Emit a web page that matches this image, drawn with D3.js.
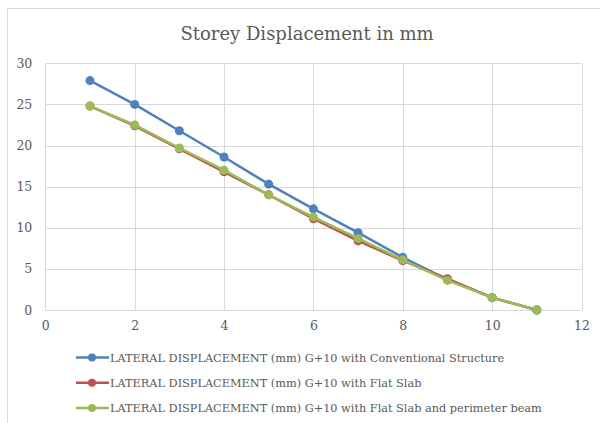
<!DOCTYPE html>
<html>
<head>
<meta charset="utf-8">
<script src="https://cdn.jsdelivr.net/npm/d3@7"></script>
<style>
  body { margin: 0; background: #fff; }
  text { font-family: "DejaVu Serif", serif; fill: #595959; }
</style>
</head>
<body>
<svg id="chart"></svg>
<script>
var storeys = [1, 2, 3, 4, 5, 6, 7, 8, 9, 10, 11];
var conventional = [27.9, 25.0, 21.8, 18.6, 15.3, 12.3, 9.4, 6.4, 3.7, 1.5, 0];
var flatSlab = [24.8, 22.4, 19.6, 16.8, 14.0, 11.1, 8.4, 6.0, 3.8, 1.5, 0];
var flatSlabBeam = [24.8, 22.5, 19.7, 17.0, 14.0, 11.3, 8.7, 6.1, 3.6, 1.5, 0];
var xTicks = [0, 2, 4, 6, 8, 10, 12];
var yTicks = [0, 5, 10, 15, 20, 25, 30];
var seriesNames = [
  "LATERAL DISPLACEMENT (mm) G+10 with Conventional Structure",
  "LATERAL DISPLACEMENT (mm) G+10 with Flat Slab",
  "LATERAL DISPLACEMENT (mm) G+10 with Flat Slab and perimeter beam"
];
var seriesColors = ["#4f81bd", "#c0504d", "#9bbb59"];
var title = "Storey Displacement in mm";

var width = 600, height = 423;
var serif = "'DejaVu Serif', serif";

var svg = d3.select("#chart")
  .attr("width", width)
  .attr("height", height);

// chart border
svg.append("rect")
  .attr("x", 7.5).attr("y", 8.5)
  .attr("width", 600).attr("height", 430)
  .attr("fill", "#fff")
  .attr("stroke", "#d9d9d9");

var x = d3.scaleLinear().domain([0, 12]).range([45.3, 581.5]);
var y = d3.scaleLinear().domain([0, 30]).range([310, 63.3]);

// gridlines
svg.append("g").selectAll("line").data(yTicks).enter().append("line")
  .attr("x1", x(0)).attr("x2", x(12))
  .attr("y1", function(d){ return Math.round(y(d)) + 0.5; })
  .attr("y2", function(d){ return Math.round(y(d)) + 0.5; })
  .attr("stroke", "#d9d9d9");

svg.append("g").selectAll("line").data(xTicks).enter().append("line")
  .attr("y1", y(0)).attr("y2", y(30))
  .attr("x1", function(d){ return Math.round(x(d)) + 0.5; })
  .attr("x2", function(d){ return Math.round(x(d)) + 0.5; })
  .attr("stroke", "#d9d9d9");

// axes labels
var xAxis = d3.axisBottom(x).tickValues(xTicks).tickSize(0).tickPadding(11);
svg.append("g")
  .attr("transform", "translate(0," + y(0) + ")")
  .call(xAxis)
  .attr("font-family", serif)
  .attr("font-size", 12.5)
  .call(function(g){ g.select(".domain").remove(); })
  .selectAll("text")
  .attr("fill", "#595959");

var yAxis = d3.axisLeft(y).tickValues(yTicks).tickSize(0).tickPadding(13);
svg.append("g")
  .attr("transform", "translate(" + x(0) + ",0)")
  .call(yAxis)
  .attr("font-family", serif)
  .attr("font-size", 12.5)
  .call(function(g){ g.select(".domain").remove(); })
  .selectAll("text")
  .attr("fill", "#595959");

// title
svg.append("text")
  .attr("x", 307).attr("y", 40)
  .attr("text-anchor", "middle")
  .style("font-size", "18px")
  .text(title);

// series
var allSeries = [conventional, flatSlab, flatSlabBeam];
var line = d3.line()
  .x(function(d){ return x(d.s); })
  .y(function(d){ return y(d.v); });

allSeries.forEach(function(values, i) {
  var pts = storeys.map(function(s, j){ return {s: s, v: values[j]}; });
  var g = svg.append("g");
  g.append("path")
    .datum(pts)
    .attr("d", line)
    .attr("fill", "none")
    .attr("stroke", seriesColors[i])
    .attr("stroke-width", 2.5)
    .attr("stroke-linejoin", "round");
  g.selectAll("circle").data(pts).enter().append("circle")
    .attr("cx", function(d){ return x(d.s); })
    .attr("cy", function(d){ return y(d.v); })
    .attr("r", 4.5)
    .attr("fill", seriesColors[i]);
});

// legend
var legend = svg.append("g").selectAll("g").data(seriesNames).enter().append("g")
  .attr("transform", function(d, i){ return "translate(0," + (357.5 + i * 25.2) + ")"; });

legend.append("line")
  .attr("x1", 76).attr("x2", 109)
  .attr("stroke", function(d, i){ return seriesColors[i]; })
  .attr("stroke-width", 2.5);
legend.append("circle")
  .attr("cx", 92).attr("r", 4)
  .attr("fill", function(d, i){ return seriesColors[i]; });
legend.append("text")
  .attr("x", 110).attr("y", 4.5)
  .style("font-size", "11.3px")
  .text(function(d){ return d; });
</script>
</body>
</html>
